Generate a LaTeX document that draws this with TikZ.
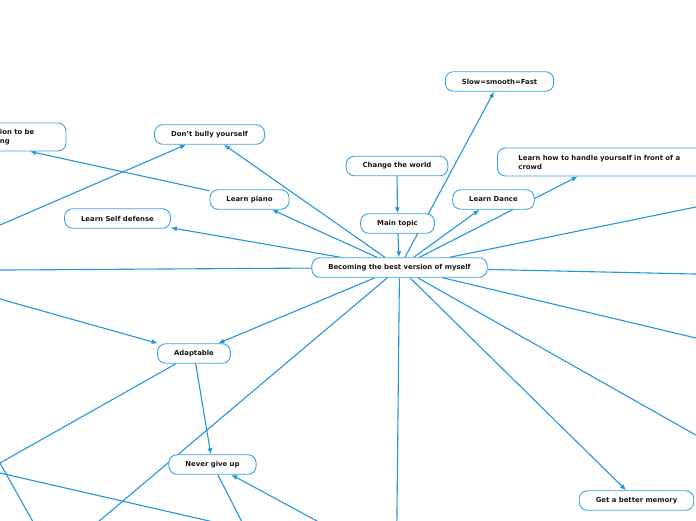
\documentclass[tikz,border=0pt]{standalone}
\usepackage{fontspec}
\setmainfont{DejaVu Sans}
\usetikzlibrary{arrows.meta,backgrounds}
\definecolor{connblue}{RGB}{36,150,222}
\definecolor{boxblue}{RGB}{60,162,228}
\definecolor{txt}{RGB}{25,25,25}
\tikzset{
  topicbox/.style={draw=boxblue, line width=0.9pt, fill=white, rounded corners=8pt,
    minimum height=19.5pt, inner xsep=16.5pt, inner ysep=5.5pt, text=txt,
    font=\fontsize{6.9}{9}\selectfont\bfseries},
  conn/.style={draw=connblue, line width=1.1pt},
  arr/.style={conn, -{Latex[length=6pt,width=5pt]}},
}
\begin{document}
\begin{tikzpicture}[x=1pt,y=-1pt]
\useasboundingbox (0,0) rectangle (696,520);
\clip (0,0) rectangle (696,520);
% nodes
\node[topicbox] (main) at (399.5,267.5) {Becoming the best version of myself};
\node[topicbox] (slow) at (499.5,81.5) {Slow=smooth=Fast};
\node[topicbox] (change) at (397,166) {Change the world};
\node[topicbox, anchor=west, align=left, text width=175pt, inner xsep=21pt, minimum height=28pt] (crowd) at (497,162) {Learn how to handle yourself in front of a crowd};
\node[topicbox] (dance) at (493.5,199.5) {Learn Dance};
\node[topicbox] (topic) at (397.5,223.5) {Main topic};
\node[topicbox] (piano) at (249.5,199.5) {Learn piano};
\node[topicbox] (bully) at (209.5,134.5) {Don't bully yourself};
\node[topicbox, align=left, text width=166pt, inner xsep=19pt, minimum height=28pt] (ion) at (-36,137) {\hspace*{119pt}ion to be\\\hspace*{119pt}ng};
\node[topicbox] (self) at (117.5,218.5) {Learn Self defense};
\node[topicbox] (adapt) at (194,353.5) {Adaptable};
\node[topicbox] (never) at (212.5,464.5) {Never give up};
\node[topicbox] (memory) at (636.5,500.5) {Get a better memory};
% off-page ends
\coordinate (r1) at (740,198);
\coordinate (r2) at (740,275);
\coordinate (r3) at (740,348.5);
\coordinate (r4) at (740,460);
\coordinate (b1) at (396.5,560);
\coordinate (b2) at (53,560);
\coordinate (l1) at (-40,270.3);
\coordinate (l2) at (-40,287.8);
\coordinate (l3) at (-40,242.3);
\coordinate (v) at (0,463);
\coordinate (b3) at (54.5,560);
\coordinate (l4) at (-40,463.8);
\coordinate (b4) at (379,560);
\coordinate (b5) at (261.5,560);
\coordinate (b6) at (389,560);
% connectors
\begin{scope}[on background layer]
\draw[arr] (main) -- (slow);
\draw[arr] (change) -- (topic);
\draw[arr] (topic) -- (main);
\draw[arr] (main) -- (dance);
\draw[arr] (main) -- (crowd);
\draw[conn] (main) -- (r1);
\draw[conn] (main) -- (r2);
\draw[conn] (main) -- (r3);
\draw[conn] (main) -- (r4);
\draw[arr] (main) -- (memory);
\draw[conn] (main) -- (b1);
\draw[conn] (main) -- (b2);
\draw[arr] (main) -- (adapt);
\draw[conn] (main) -- (l1);
\draw[arr] (l2) -- (adapt);
\draw[arr] (l3) -- (bully);
\draw[arr] (main) -- (bully);
\draw[arr] (main) -- (piano);
\draw[arr] (piano) -- (ion);
\draw[arr] (main) -- (self);
\draw[conn] (adapt) -- (v);
\draw[conn] (v) -- (b3);
\draw[conn] (l4) -- (b4);
\draw[arr] (adapt) -- (never);
\draw[conn] (never) -- (b5);
\draw[arr] (b6) -- (never);
\end{scope}
\end{tikzpicture}
\end{document}
